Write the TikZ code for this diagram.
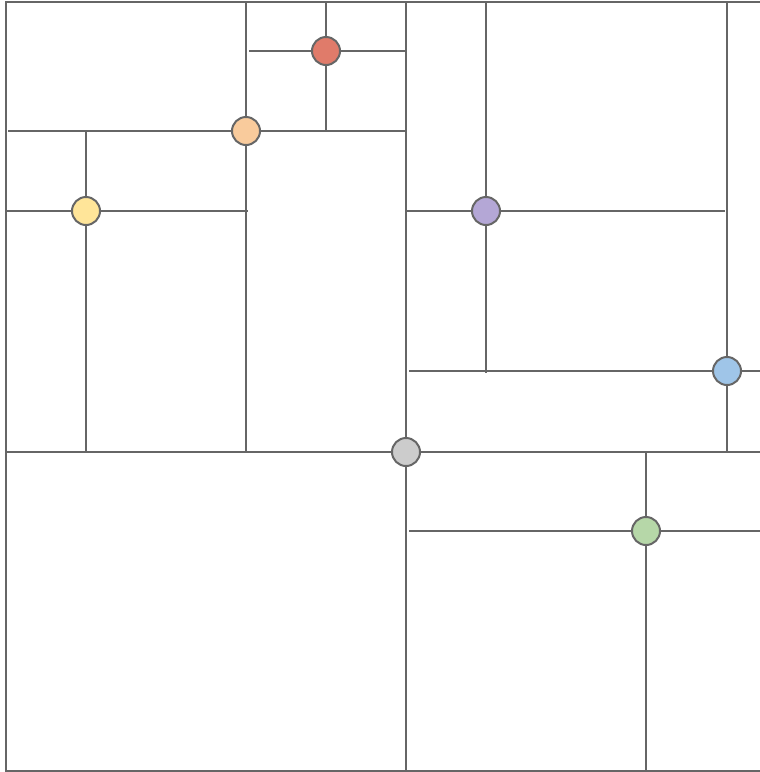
\documentclass[tikz,border=0pt]{standalone}
\usetikzlibrary{positioning}

\definecolor{edgegray}{HTML}{666666}
\definecolor{ptred}{HTML}{E07B6A}
\definecolor{ptorange}{HTML}{F9CB9C}
\definecolor{ptyellow}{HTML}{FFE599}
\definecolor{ptpurple}{HTML}{B4A7D6}
\definecolor{ptblue}{HTML}{9FC5E8}
\definecolor{ptgreen}{HTML}{B6D7A8}
\definecolor{ptgray}{HTML}{CCCCCC}

\begin{document}
\begin{tikzpicture}[
  x=0.5pt, y=-0.5pt,
  split/.style = {draw=edgegray, line width=1pt},
  point/.style = {draw=edgegray, circle, line width=1pt,
                  minimum size=14pt, inner sep=0pt},
]
\useasboundingbox (0,0) rectangle (760,772);

%── Rahmen ────────────────────────────────────────────────────────────────
\coordinate (tl) at (6,2);
\coordinate (tr) at (760,2);
\coordinate (bl) at (6,771);
\coordinate (br) at (760,771);
\draw[split] (tr) -- (tl) -- (bl) -- (br);

%── Punkte (Koordinaten) ──────────────────────────────────────────────────
\coordinate (p0) at (406,452);   % grau
\coordinate (p1) at (246,131);   % orange
\coordinate (p2) at (86,211);    % gelb
\coordinate (p3) at (326,51);    % rot
\coordinate (p4) at (486,211);   % lila
\coordinate (p5) at (727,371);   % blau
\coordinate (p6) at (646,531);   % gruen

%── Endpunkte der Schnitte ────────────────────────────────────────────────
\coordinate (p0n) at (406,2);    \coordinate (p0s) at (406,771);
\coordinate (p0w) at (6,452);    \coordinate (p0e) at (760,452);
\coordinate (p1n) at (246,2);    \coordinate (p1s) at (246,452);
\coordinate (p1w) at (8,131);    \coordinate (p1e) at (406,131);
\coordinate (p2n) at (86,131);   \coordinate (p2s) at (86,452);
\coordinate (p2w) at (6,211);    \coordinate (p2e) at (248,211);
\coordinate (p3n) at (326,2);    \coordinate (p3s) at (326,131);
\coordinate (p3w) at (249,51);   \coordinate (p3e) at (406,51);
\coordinate (p4n) at (486,2);    \coordinate (p4s) at (486,373);
\coordinate (p4w) at (406,211);  \coordinate (p4e) at (725,211);
\coordinate (p5n) at (727,2);    \coordinate (p5s) at (727,452);
\coordinate (p5w) at (409,371);  \coordinate (p5e) at (760,371);
\coordinate (p6n) at (646,452);  \coordinate (p6s) at (646,771);
\coordinate (p6w) at (409,531);  \coordinate (p6e) at (760,531);

%── Schnitte ──────────────────────────────────────────────────────────────
\foreach \i in {0,...,6}{
  \draw[split] (p\i n) -- (p\i s);
  \draw[split] (p\i w) -- (p\i e);
}

%── Punkte ────────────────────────────────────────────────────────────────
\node[point, fill=ptgray]   (n0) at (p0) {};
\node[point, fill=ptorange] (n1) at (p1) {};
\node[point, fill=ptyellow] (n2) at (p2) {};
\node[point, fill=ptred]    (n3) at (p3) {};
\node[point, fill=ptpurple] (n4) at (p4) {};
\node[point, fill=ptblue]   (n5) at (p5) {};
\node[point, fill=ptgreen]  (n6) at (p6) {};

\end{tikzpicture}
\end{document}
